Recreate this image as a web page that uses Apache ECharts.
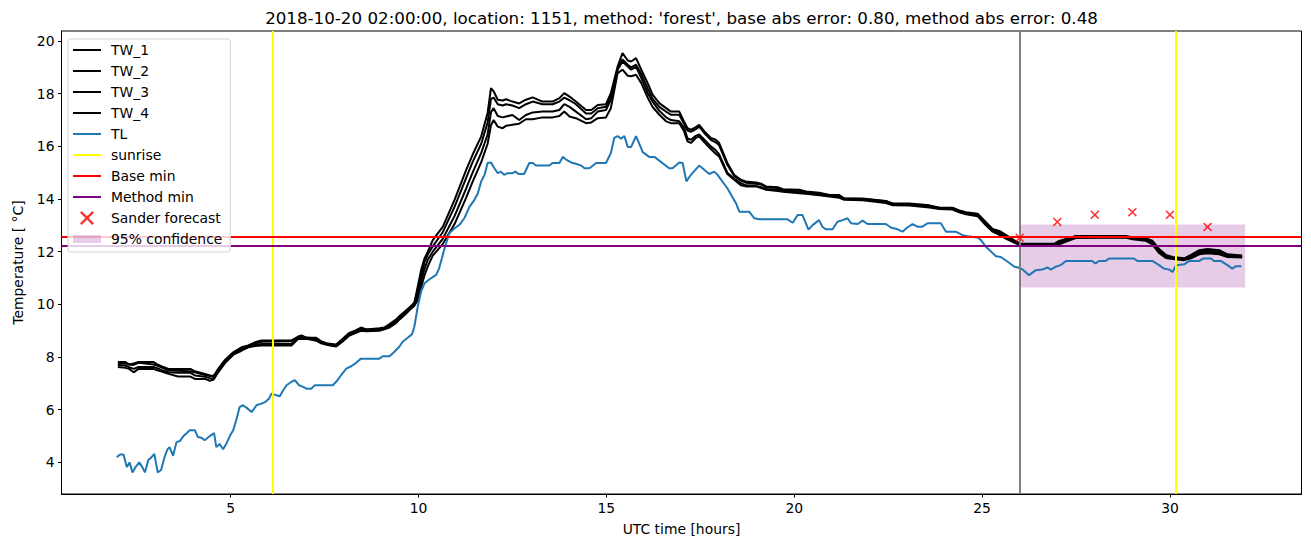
<!DOCTYPE html>
<html><head><meta charset="utf-8">
<script src="https://cdn.jsdelivr.net/npm/echarts@6/dist/echarts.min.js"></script>
<style>html,body{margin:0;padding:0;background:#fff}#c{width:1311px;height:547px}</style>
</head><body><div id="c"></div>
<script>
const TITLE = "2018-10-20 02:00:00, location: 1151, method: 'forest', base abs error: 0.80, method abs error: 0.48";
const xTicks = [5,10,15,20,25,30];
const yTicks = [4,6,8,10,12,14,16,18,20];

// TL: [hour, temperature]
const TL = [[1.97,4.2],[2.06,4.3],[2.15,4.3],[2.24,3.82],[2.31,4.0],[2.39,3.62],[2.48,3.84],[2.57,4.0],[2.65,3.82],[2.72,3.62],[2.81,4.09],[2.89,4.19],[2.97,4.32],[3.06,3.62],[3.15,3.71],[3.24,4.19],[3.32,4.5],[3.38,4.57],[3.47,4.25],[3.56,4.77],[3.65,4.81],[3.74,4.99],[3.83,5.11],[3.91,5.22],[4.05,5.22],[4.13,4.96],[4.22,4.94],[4.31,4.84],[4.44,4.99],[4.56,5.11],[4.62,4.58],[4.71,4.7],[4.80,4.5],[4.89,4.72],[4.98,5.0],[5.07,5.22],[5.16,5.66],[5.24,6.1],[5.33,6.17],[5.42,6.08],[5.56,5.91],[5.69,6.17],[5.82,6.23],[5.93,6.3],[6.02,6.42],[6.09,6.61],[6.22,6.55],[6.31,6.51],[6.40,6.74],[6.49,6.93],[6.62,7.06],[6.71,7.12],[6.82,6.93],[6.93,6.87],[7.02,6.8],[7.15,6.8],[7.24,6.93],[7.72,6.93],[7.81,7.06],[7.94,7.31],[8.08,7.56],[8.21,7.65],[8.34,7.78],[8.47,7.94],[8.96,7.94],[9.05,8.03],[9.23,8.03],[9.36,8.2],[9.49,8.39],[9.58,8.58],[9.72,8.74],[9.83,8.87],[9.89,9.15],[9.98,9.91],[10.07,10.48],[10.16,10.8],[10.33,10.99],[10.47,11.12],[10.55,11.37],[10.69,12.1],[10.82,12.7],[10.96,12.89],[11.09,13.02],[11.22,13.27],[11.36,13.71],[11.49,13.97],[11.58,14.22],[11.67,14.67],[11.76,14.92],[11.84,15.37],[11.93,15.39],[12.02,15.17],[12.11,14.98],[12.19,15.04],[12.28,14.92],[12.37,14.98],[12.50,14.98],[12.58,15.04],[12.66,14.95],[12.81,14.95],[12.95,15.37],[13.04,15.37],[13.13,15.27],[13.48,15.27],[13.57,15.37],[13.75,15.37],[13.84,15.6],[13.93,15.5],[14.06,15.39],[14.19,15.34],[14.33,15.27],[14.42,15.17],[14.55,15.17],[14.73,15.37],[14.99,15.37],[15.12,15.75],[15.21,16.32],[15.30,16.39],[15.39,16.29],[15.48,16.39],[15.57,15.98],[15.66,15.98],[15.79,16.39],[15.97,15.78],[16.14,15.6],[16.28,15.6],[16.67,15.17],[16.76,15.17],[16.94,15.39],[17.03,15.37],[17.13,14.67],[17.25,14.92],[17.47,15.27],[17.74,14.95],[17.87,15.04],[17.96,14.92],[18.22,14.41],[18.45,13.84],[18.54,13.52],[18.80,13.52],[18.94,13.27],[19.07,13.23],[19.82,13.23],[19.96,13.1],[20.09,13.39],[20.22,13.39],[20.38,12.84],[20.49,13.01],[20.66,13.2],[20.75,12.95],[20.84,12.85],[21.02,12.85],[21.15,13.14],[21.29,13.2],[21.42,13.27],[21.51,13.08],[21.69,13.05],[21.82,13.18],[21.95,13.05],[22.44,13.05],[22.57,12.92],[22.75,12.85],[22.88,12.76],[23.01,12.92],[23.15,13.05],[23.28,12.95],[23.41,12.95],[23.55,13.08],[23.9,13.08],[24.04,12.76],[24.3,12.76],[24.48,12.63],[24.61,12.59],[24.88,12.54],[24.97,12.44],[25.1,12.19],[25.37,11.83],[25.5,11.8],[25.68,11.62],[25.86,11.43],[25.96,11.4],[26.07,11.33],[26.25,11.11],[26.43,11.3],[26.6,11.32],[26.74,11.4],[26.83,11.32],[26.96,11.43],[27.09,11.49],[27.23,11.65],[27.93,11.65],[28.02,11.55],[28.11,11.65],[28.29,11.65],[28.38,11.74],[29.04,11.74],[29.13,11.65],[29.53,11.65],[29.71,11.49],[29.84,11.36],[29.98,11.32],[30.07,11.23],[30.16,11.49],[30.38,11.52],[30.51,11.65],[30.78,11.65],[30.88,11.74],[31.09,11.74],[31.17,11.65],[31.35,11.65],[31.53,11.49],[31.66,11.36],[31.75,11.45],[31.9,11.45]];

// shared hours for the TW sensors
const twHours = [2.0,2.2,2.3,2.42,2.55,2.95,3.05,3.17,3.35,3.6,3.93,4.05,4.32,4.45,4.55,4.67,4.85,5.07,5.29,5.47,5.65,5.82,6.62,6.8,6.89,7.02,7.28,7.41,7.58,7.81,7.99,8.16,8.34,8.47,8.61,8.96,9.09,9.23,9.41,9.49,9.63,9.76,9.89,9.98,10.07,10.16,10.25,10.38,10.65,10.96,11.27,11.44,11.67,11.84,11.93,12.0,12.11,12.24,12.33,12.5,12.68,12.86,13.04,13.3,13.57,13.75,13.88,14.02,14.19,14.46,14.6,14.77,14.99,15.12,15.3,15.43,15.57,15.66,15.79,15.93,16.1,16.23,16.41,16.59,16.72,16.94,17.07,17.16,17.25,17.38,17.47,17.61,17.78,17.91,18.0,18.22,18.4,18.58,18.71,18.98,19.12,19.25,19.56,19.7,20.14,20.31,20.67,20.93,21.2,21.33,21.82,22.44,22.62,23.06,23.6,23.86,24.21,24.39,24.57,24.88,25.1,25.28,25.46,25.63,25.85,26.03,26.25,26.92,27.05,27.31,27.49,28.82,29.0,29.35,29.53,29.71,29.89,30.07,30.38,30.56,30.78,31.0,31.31,31.53,31.92];
const TW_1 = [7.81,7.81,7.72,7.76,7.81,7.81,7.72,7.64,7.55,7.55,7.55,7.46,7.36,7.3,7.29,7.55,7.89,8.18,8.37,8.44,8.56,8.63,8.63,8.78,8.82,8.73,8.73,8.6,8.51,8.48,8.7,8.92,9.02,9.12,9.05,9.09,9.12,9.25,9.43,9.55,9.72,9.88,10.06,10.67,11.3,11.74,12.0,12.44,12.95,13.97,15.11,15.68,16.38,17.27,18.21,18.09,17.77,17.74,17.79,17.7,17.63,17.77,17.86,17.7,17.7,17.83,18.02,17.89,17.7,17.38,17.38,17.57,17.6,18.02,19.03,19.54,19.26,19.22,19.35,18.91,18.4,17.96,17.64,17.45,17.32,17.32,16.94,16.69,16.63,16.73,16.82,16.57,16.32,16.25,16.13,15.37,14.92,14.73,14.67,14.63,14.58,14.48,14.45,14.37,14.35,14.29,14.24,14.15,14.15,14.02,14.02,13.93,13.83,13.83,13.76,13.67,13.67,13.57,13.5,13.44,13.12,12.86,12.79,12.64,12.44,12.3,12.3,12.3,12.41,12.51,12.6,12.6,12.55,12.51,12.42,12.1,11.88,11.8,11.75,11.88,12.06,12.1,12.06,11.9,11.86];
const TW_2 = [7.75,7.76,7.72,7.7,7.78,7.72,7.68,7.6,7.5,7.48,7.46,7.42,7.32,7.28,7.25,7.5,7.85,8.14,8.33,8.42,8.5,8.58,8.6,8.75,8.78,8.74,8.7,8.57,8.5,8.44,8.66,8.88,8.98,9.08,9.05,9.06,9.1,9.22,9.4,9.52,9.7,9.85,10.05,10.5,11.05,11.6,11.9,12.2,12.75,13.7,14.8,15.4,16.1,16.9,17.8,17.85,17.6,17.55,17.6,17.55,17.45,17.6,17.7,17.6,17.6,17.7,17.85,17.75,17.6,17.25,17.25,17.45,17.5,17.9,18.95,19.3,19.1,19.0,19.1,18.75,18.2,17.8,17.5,17.32,17.2,17.2,16.85,16.6,16.55,16.65,16.75,16.5,16.25,16.15,16.05,15.3,14.88,14.7,14.62,14.58,14.55,14.45,14.42,14.35,14.3,14.28,14.2,14.15,14.12,14.02,14.0,13.92,13.82,13.8,13.74,13.67,13.66,13.56,13.48,13.42,13.1,12.84,12.74,12.6,12.41,12.28,12.28,12.28,12.38,12.5,12.58,12.58,12.52,12.49,12.38,12.06,11.84,11.76,11.71,11.84,12.0,12.06,12.0,11.86,11.82];
const TW_3 = [7.7,7.68,7.62,7.55,7.62,7.62,7.58,7.5,7.42,7.4,7.4,7.3,7.25,7.2,7.18,7.45,7.8,8.1,8.28,8.4,8.45,8.5,8.5,8.7,8.72,8.7,8.68,8.55,8.48,8.42,8.62,8.85,8.95,9.05,9.02,9.04,9.08,9.18,9.35,9.48,9.65,9.82,10.0,10.3,10.85,11.35,11.7,12.0,12.5,13.35,14.4,15.0,15.75,16.45,17.3,17.45,17.15,17.1,17.13,17.19,17.0,17.19,17.29,17.32,17.32,17.38,17.6,17.5,17.32,17.03,17.07,17.32,17.38,17.77,18.91,19.22,19.03,18.91,19.03,18.59,18.02,17.7,17.35,17.1,17.0,16.95,16.7,16.3,16.25,16.4,16.45,16.25,16.0,15.85,15.7,15.0,14.78,14.6,14.52,14.5,14.45,14.38,14.35,14.3,14.25,14.22,14.16,14.12,14.08,14.0,13.98,13.88,13.8,13.78,13.72,13.65,13.63,13.55,13.45,13.38,13.05,12.8,12.7,12.55,12.38,12.26,12.27,12.27,12.33,12.45,12.55,12.56,12.5,12.45,12.33,12.0,11.8,11.74,11.7,11.8,11.95,12.0,11.95,11.82,11.8];
const TW_4 = [7.62,7.59,7.55,7.42,7.55,7.55,7.5,7.45,7.36,7.26,7.26,7.17,7.17,7.1,7.15,7.42,7.77,8.09,8.24,8.37,8.42,8.44,8.44,8.69,8.69,8.69,8.62,8.52,8.46,8.4,8.6,8.82,8.92,9.0,8.98,9.0,9.05,9.12,9.3,9.42,9.6,9.78,9.95,10.15,10.65,11.1,11.45,11.85,12.3,13.05,14.05,14.65,15.4,16.1,16.8,17.0,16.75,16.69,16.78,16.82,16.86,17.03,17.03,17.1,17.1,17.15,17.32,17.13,17.07,16.88,16.91,17.07,17.1,17.45,18.78,18.91,18.68,18.66,18.72,18.4,17.85,17.5,17.2,16.95,16.88,16.88,16.57,16.19,16.13,16.32,16.38,16.15,15.9,15.72,15.62,14.95,14.73,14.52,14.48,14.48,14.42,14.35,14.3,14.28,14.22,14.2,14.14,14.1,14.05,13.97,13.95,13.85,13.76,13.75,13.68,13.62,13.6,13.5,13.42,13.35,13.0,12.76,12.64,12.5,12.35,12.24,12.24,12.25,12.28,12.42,12.52,12.54,12.47,12.42,12.28,11.95,11.76,11.72,11.68,11.75,11.9,11.94,11.9,11.8,11.78];

const sunriseHours = [6.12, 30.15];
const issueHour = 26.0;
const baseMin = 12.55;
const methodMin = 12.24;
const sanderHours = [26,27,28,29,30,31];
const sanderTemps = [12.53,13.13,13.4,13.5,13.4,12.94];
const confHours = [26, 32];
const confTemps = [10.64, 13.03];

const FONT = 'DejaVu Sans';
const chart = echarts.init(document.getElementById('c'), null, {renderer:'svg', width:1311, height:547});
const pair = (xs, ys) => xs.map((x,i)=>[x, ys[i]]);
const twSeries = [['TW_1',TW_1],['TW_2',TW_2],['TW_3',TW_3],['TW_4',TW_4]].map(([n,v])=>({
  name:n, type:'line', data:pair(twHours, v), showSymbol:false, symbol:'none',
  color:'#000', lineStyle:{color:'#000', width:2}, z:3
}));
const xMark = 'path://M0,1.2L1.2,0L5,3.8L8.8,0L10,1.2L6.2,5L10,8.8L8.8,10L5,6.2L1.2,10L0,8.8L3.8,5Z';
const lineIcon = 'path://M0,0h28v2h-28z';
const li = (name, color) => ({name, icon:lineIcon, itemStyle:{color}});

chart.setOption({
  animation:false,
  graphic:[{type:'text', x:681.5, y:9, style:{text:TITLE, font:'16.7px "DejaVu Sans"', fill:'#000', textAlign:'center', textVerticalAlign:'top'}}],
  grid:{left:61.5, right:9.5, top:31, bottom:53, show:true, borderColor:'#000', borderWidth:1, backgroundColor:'transparent'},
  xAxis:{type:'value', min:0.5, max:33.5, splitLine:{show:false},
    axisLine:{show:true, onZero:false, lineStyle:{color:'#000'}},
    axisTick:{show:true, length:3.5, lineStyle:{color:'#000'}, customValues:xTicks},
    axisLabel:{customValues:xTicks, color:'#000', fontFamily:FONT, fontSize:13.9, margin:7},
    name:'UTC time [hours]', nameLocation:'middle', nameGap:28, nameTextStyle:{color:'#000', fontFamily:FONT, fontSize:13.9}},
  yAxis:{type:'value', min:2.8, max:20.38, splitLine:{show:false},
    axisLine:{show:true, onZero:false, lineStyle:{color:'#000'}},
    axisTick:{show:true, length:3.5, lineStyle:{color:'#000'}, customValues:yTicks},
    axisLabel:{customValues:yTicks, color:'#000', fontFamily:FONT, fontSize:13.9, margin:7},
    name:'Temperature [ °C]', nameLocation:'middle', nameGap:37, nameTextStyle:{color:'#000', fontFamily:FONT, fontSize:13.9}},
  legend:{orient:'vertical', left:68, top:39, z:50, zlevel:0, padding:[4,8,6,5], itemWidth:28, itemHeight:14, itemGap:7,
    backgroundColor:'rgba(255,255,255,0.8)', borderColor:'#d3d3d3', borderWidth:1, borderRadius:3,
    selectedMode:false, textStyle:{color:'#000', fontFamily:FONT, fontSize:13.9, padding:[0,0,0,5]},
    data:[li('TW_1','#000'),li('TW_2','#000'),li('TW_3','#000'),li('TW_4','#000'),li('TL','#1f77b4'),
      li('sunrise','#ffff00'),li('Base min','#ff0000'),li('Method min','#800080'),
      {name:'Sander forecast', icon:xMark, itemStyle:{color:'red'}},
      {name:'95% confidence', icon:'path://M0,0h28v8h-28z', itemStyle:{color:'rgba(128,0,128,0.2)'}}]},
  series:[
    {name:'95% confidence', type:'line', data:[], color:'rgba(128,0,128,0.2)', z:1,
      markArea:{silent:true, itemStyle:{color:'rgba(128,0,128,0.2)'},
        data:[[{xAxis:confHours[0], yAxis:confTemps[0]},{xAxis:confHours[1], yAxis:confTemps[1]}]]}},
    ...twSeries,
    {name:'TL', type:'line', data:TL, showSymbol:false, symbol:'none', color:'#1f77b4', lineStyle:{color:'#1f77b4', width:2}, z:4},
    {name:'sunrise', type:'line', data:[], color:'#ffff00', z:5,
      markLine:{silent:true, symbol:'none', label:{show:false}, lineStyle:{color:'#ffff00', type:'solid', width:2},
        data:sunriseHours.map(h=>({xAxis:h}))}},
    {name:'issue', type:'line', data:[], color:'#808080', z:5,
      markLine:{silent:true, symbol:'none', label:{show:false}, lineStyle:{color:'#808080', type:'solid', width:2},
        data:[{xAxis:issueHour}]}},
    {name:'Base min', type:'line', data:[], color:'#ff0000', z:5,
      markLine:{silent:true, symbol:'none', label:{show:false}, lineStyle:{color:'#ff0000', type:'solid', width:2},
        data:[{yAxis:baseMin}]}},
    {name:'Method min', type:'line', data:[], color:'#800080', z:5,
      markLine:{silent:true, symbol:'none', label:{show:false}, lineStyle:{color:'#800080', type:'solid', width:2},
        data:[{yAxis:methodMin}]}},
    {name:'Sander forecast', type:'scatter', data:pair(sanderHours, sanderTemps), symbol:xMark, symbolSize:9,
      itemStyle:{color:'red'}, z:6}
  ]
});
</script></body></html>
